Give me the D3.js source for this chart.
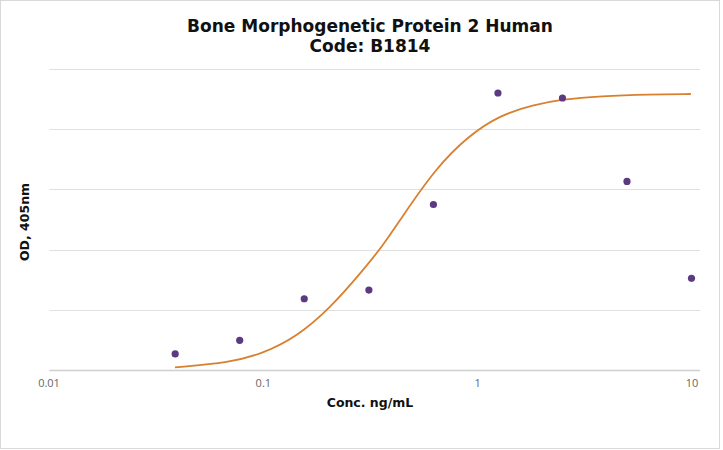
<!DOCTYPE html>
<html>
<head>
<meta charset="utf-8">
<script src="https://cdn.jsdelivr.net/npm/d3@7"></script>
<style>
  html, body { margin: 0; padding: 0; background: #fff; }
  svg { display: block; }
</style>
</head>
<body>
<svg id="chart" width="723" height="450"></svg>
<script>
// ---- data ----
const titleLines = ["Bone Morphogenetic Protein 2 Human", "Code: B1814"];
const xLabel = "Conc. ng/mL";
const yLabel = "OD, 405nm";
const xTicks = [0.01, 0.1, 1, 10];
const xTickLabels = ["0.01", "0.1", "1", "10"];
const yGrid = [0, 0.5, 1, 1.5, 2, 2.5];

// measured points
const conc = [0.039, 0.078, 0.156, 0.3125, 0.625, 1.25, 2.5, 5, 10];
const od   = [0.137, 0.25, 0.594, 0.666, 1.374, 2.297, 2.256, 1.565, 0.763];

// fitted curve
const fitConc = [0.0389, 0.0703, 0.1005, 0.144, 0.206, 0.2944, 0.3649, 0.4367, 0.636, 0.907, 1.279, 1.829, 2.49, 3.746, 6.41, 9.93];
const fitOd   = [0.026, 0.065, 0.142, 0.280, 0.515, 0.832, 1.04, 1.246, 1.668, 1.941, 2.115, 2.198, 2.245, 2.272, 2.286, 2.289];

// ---- layout ----
const svg = d3.select("#chart");
const W = 723, H = 450;
const plot = { left: 49.5, right: 700, top: 68.5, bottom: 370.5 };

const x = d3.scaleLog().domain([0.01, 10]).range([48.5, 691.5]);
const y = d3.scaleLinear().domain([0, 2.5]).range([plot.bottom, plot.top]);

// frame
svg.append("rect")
  .attr("x", 0.5).attr("y", 0.5)
  .attr("width", W - 4).attr("height", H - 2)
  .attr("fill", "#fff").attr("stroke", "#d9d9d9").attr("stroke-width", 1);

// title
const title = svg.append("text")
  .attr("text-anchor", "middle")
  .attr("font-family", "DejaVu Sans")
  .attr("font-weight", "bold")
  .attr("font-size", 17)
  .attr("fill", "#111");
title.selectAll("tspan").data(titleLines).join("tspan")
  .attr("x", 370).attr("y", (d, i) => 31.5 + i * 20.5)
  .text(d => d);

// gridlines
svg.append("g").selectAll("line").data(yGrid.filter(v => v > 0)).join("line")
  .attr("x1", plot.left).attr("x2", plot.right)
  .attr("y1", d => Math.round(y(d)) + 0.5).attr("y2", d => Math.round(y(d)) + 0.5)
  .attr("stroke", "#e0e0e0").attr("stroke-width", 1);

// baseline
svg.append("line")
  .attr("x1", plot.left).attr("x2", plot.right)
  .attr("y1", y(0)).attr("y2", y(0))
  .attr("stroke", "#cfcfcf").attr("stroke-width", 1.5);

// x axis via d3.axisBottom (no line/ticks shown)
const xAxis = d3.axisBottom(x).tickValues(xTicks)
  .tickFormat((d, i) => xTickLabels[i]).tickSize(0).tickPadding(0);
const gx = svg.append("g").attr("transform", `translate(0, ${plot.bottom + 9})`).call(xAxis);
gx.select(".domain").remove();
gx.selectAll("text")
  .attr("font-family", "Open Sans")
  .attr("font-size", 11)
  .attr("fill", "#666");

// axis labels
svg.append("text")
  .attr("x", 370).attr("y", 407)
  .attr("text-anchor", "middle")
  .attr("font-family", "DejaVu Sans").attr("font-weight", "bold")
  .attr("font-size", 12.5).attr("fill", "#111")
  .text(xLabel);

svg.append("text")
  .attr("transform", "translate(29, 222) rotate(-90)")
  .attr("text-anchor", "middle")
  .attr("font-family", "DejaVu Sans").attr("font-weight", "bold")
  .attr("font-size", 12.5).attr("fill", "#111")
  .text(yLabel);

// fitted curve
const fit = fitConc.map((c, i) => [c, fitOd[i]]);
svg.append("path")
  .datum(fit)
  .attr("fill", "none")
  .attr("stroke", "#d8802f")
  .attr("stroke-width", 1.8)
  .attr("d", d3.line().x(d => x(d[0])).y(d => y(d[1])).curve(d3.curveBasis));

// points
const pts = conc.map((c, i) => [c, od[i]]);
svg.append("g").selectAll("circle").data(pts).join("circle")
  .attr("cx", d => x(d[0])).attr("cy", d => y(d[1]))
  .attr("r", 3.6)
  .attr("fill", "#5b3a82");
</script>
</body>
</html>
